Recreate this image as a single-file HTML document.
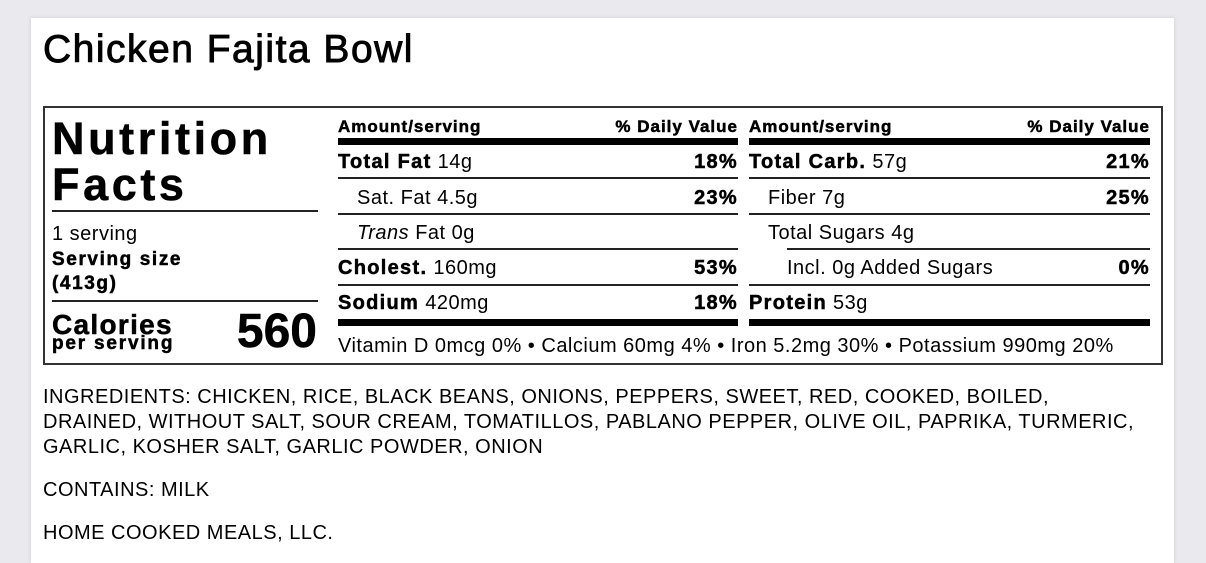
<!DOCTYPE html>
<html><head><meta charset="utf-8"><style>
html,body{margin:0;padding:0;}
body{width:1206px;height:559px;background:#e9e9ee;position:relative;overflow:hidden;font-family:"Liberation Sans",Arial,sans-serif;color:#000;}
.card{position:absolute;left:31px;top:18px;width:1143px;height:545px;background:#fff;box-shadow:0 0 4px rgba(0,0,0,.12);}
.a{position:absolute;line-height:1;white-space:nowrap;letter-spacing:.5px;}
.b{font-weight:bold;-webkit-text-stroke:0.5px #000;letter-spacing:1.3px;}
.r{text-align:right;}
.r.b{margin-right:-1.3px;}
.ln{position:absolute;height:2px;background:#222;}
.th{position:absolute;height:7px;background:#000;}
</style></head><body>
<div class="card"></div>
<div class="a" style="left:43px;top:30px;font-size:39px;letter-spacing:1.5px;-webkit-text-stroke:0.9px #000;">Chicken Fajita Bowl</div>
<div style="position:absolute;left:43px;top:106px;width:1116px;height:255px;border:2px solid #333;"></div>

<div class="a b" style="left:52px;top:116px;font-size:45px;letter-spacing:3.6px;">Nutrition</div>
<div class="a b" style="left:52px;top:162px;font-size:45px;letter-spacing:3.6px;">Facts</div>
<div class="ln" style="left:52px;top:210px;width:266px;"></div>
<div class="a" style="left:52px;top:224px;font-size:20px;">1 serving</div>
<div class="a b" style="left:52px;top:250px;font-size:19px;letter-spacing:1.6px;">Serving size</div>
<div class="a b" style="left:52px;top:274px;font-size:19px;letter-spacing:1.6px;">(413g)</div>
<div class="ln" style="left:52px;top:300px;width:266px;"></div>
<div class="a b" style="left:52px;top:311px;font-size:28px;letter-spacing:1.3px;">Calories</div>
<div class="a b" style="left:52px;top:334px;font-size:19px;letter-spacing:1.8px;">per serving</div>
<div class="a b r" style="left:180px;width:137px;top:308px;font-size:48px;letter-spacing:0;margin-right:0;">560</div>

<div class="a b" style="left:338px;top:118px;font-size:17px;letter-spacing:1px;">Amount/serving</div>
<div class="a b r" style="left:538px;width:200px;top:118px;font-size:17px;letter-spacing:1px;margin-right:-1px;">% Daily Value</div>
<div class="th" style="left:338px;top:138px;width:400px;"></div>
<div class="a" style="left:338px;top:152px;font-size:20px;"><span class="b">Total Fat</span> 14g</div>
<div class="a b r" style="left:638px;width:100px;top:152px;font-size:20px;">18%</div>
<div class="ln" style="left:338px;top:177px;width:400px;"></div>
<div class="a" style="left:357px;top:188px;font-size:20px;">Sat. Fat 4.5g</div>
<div class="a b r" style="left:638px;width:100px;top:188px;font-size:20px;">23%</div>
<div class="ln" style="left:338px;top:213px;width:400px;"></div>
<div class="a" style="left:357px;top:223px;font-size:20px;"><i>Trans</i> Fat 0g</div>
<div class="ln" style="left:338px;top:248px;width:400px;"></div>
<div class="a" style="left:338px;top:258px;font-size:20px;"><span class="b">Cholest.</span> 160mg</div>
<div class="a b r" style="left:638px;width:100px;top:258px;font-size:20px;">53%</div>
<div class="ln" style="left:338px;top:284px;width:400px;"></div>
<div class="a" style="left:338px;top:293px;font-size:20px;"><span class="b">Sodium</span> 420mg</div>
<div class="a b r" style="left:638px;width:100px;top:293px;font-size:20px;">18%</div>
<div class="th" style="left:338px;top:319px;width:400px;"></div>

<div class="a b" style="left:749px;top:118px;font-size:17px;letter-spacing:1px;">Amount/serving</div>
<div class="a b r" style="left:950px;width:200px;top:118px;font-size:17px;letter-spacing:1px;margin-right:-1px;">% Daily Value</div>
<div class="th" style="left:749px;top:138px;width:401px;"></div>
<div class="a" style="left:749px;top:152px;font-size:20px;"><span class="b">Total Carb.</span> 57g</div>
<div class="a b r" style="left:1050px;width:100px;top:152px;font-size:20px;">21%</div>
<div class="ln" style="left:749px;top:177px;width:401px;"></div>
<div class="a" style="left:768px;top:188px;font-size:20px;">Fiber 7g</div>
<div class="a b r" style="left:1050px;width:100px;top:188px;font-size:20px;">25%</div>
<div class="ln" style="left:749px;top:213px;width:401px;"></div>
<div class="a" style="left:768px;top:223px;font-size:20px;">Total Sugars 4g</div>
<div class="ln" style="left:787px;top:248px;width:363px;"></div>
<div class="a" style="left:787px;top:258px;font-size:20px;">Incl. 0g Added Sugars</div>
<div class="a b r" style="left:1050px;width:100px;top:258px;font-size:20px;">0%</div>
<div class="ln" style="left:749px;top:284px;width:401px;"></div>
<div class="a" style="left:749px;top:293px;font-size:20px;"><span class="b">Protein</span> 53g</div>
<div class="th" style="left:749px;top:319px;width:401px;"></div>

<div class="a" style="left:338px;top:336px;font-size:20px;">Vitamin D 0mcg 0% • Calcium 60mg 4% • Iron 5.2mg 30% • Potassium 990mg 20%</div>

<div class="a" style="left:43px;top:385px;font-size:20px;line-height:25px;white-space:nowrap;">INGREDIENTS: CHICKEN, RICE, BLACK BEANS, ONIONS, PEPPERS, SWEET, RED, COOKED, BOILED,<br>DRAINED, WITHOUT SALT, SOUR CREAM, TOMATILLOS, PABLANO PEPPER, OLIVE OIL, PAPRIKA, TURMERIC,<br>GARLIC, KOSHER SALT, GARLIC POWDER, ONION</div>
<div class="a" style="left:43px;top:480px;font-size:20px;">CONTAINS: MILK</div>
<div class="a" style="left:43px;top:523px;font-size:20px;">HOME COOKED MEALS, LLC.</div>
</body></html>
